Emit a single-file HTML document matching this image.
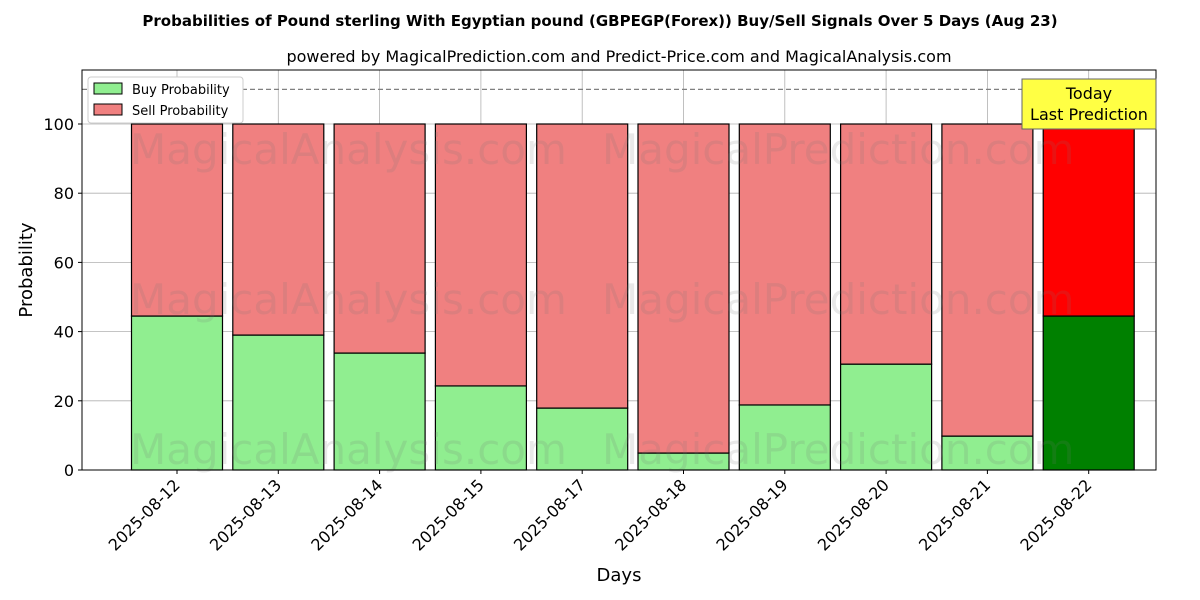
<!DOCTYPE html>
<html><head><meta charset="utf-8"><style>body{margin:0;background:#fff}svg{display:block;font-family:"DejaVu Sans","Liberation Sans",sans-serif}</style></head>
<body>
<svg id="chart" width="1200" height="600" viewBox="0 0 1200 600">
<text x="600" y="26" text-anchor="middle" font-size="15" font-weight="bold">Probabilities of Pound sterling With Egyptian pound (GBPEGP(Forex)) Buy/Sell Signals Over 5 Days (Aug 23)</text>
<text x="619" y="62" text-anchor="middle" font-size="16">powered by MagicalPrediction.com and Predict-Price.com and MagicalAnalysis.com</text>
<g id="grid"></g><g id="bars"></g><g id="wm"></g><g id="axes"></g>
</svg>
<script>
const categories=["2025-08-12","2025-08-13","2025-08-14","2025-08-15","2025-08-17","2025-08-18","2025-08-19","2025-08-20","2025-08-21","2025-08-22"];
const buyValues=[44.5,39,33.8,24.3,17.9,4.9,18.8,30.6,9.8,44.5];
const sellValues=[55.5,61,66.2,75.7,82.1,95.1,81.2,69.4,90.2,55.5];
const yTicks=[0,20,40,60,80,100];
const NS="http://www.w3.org/2000/svg";
const L=82,R=1156,T=70,B=470;
const x=i=>177+i*101.3;
const y=v=>470-v*3.46;
function mk(tag,attrs,parent,text){const e=document.createElementNS(NS,tag);for(const k in attrs)e.setAttribute(k,attrs[k]);if(text!==undefined)e.textContent=text;parent.appendChild(e);return e;}
const grid=document.getElementById('grid'),bars=document.getElementById('bars'),axes=document.getElementById('axes'),wm=document.getElementById('wm');
yTicks.forEach(t=>{
 const g=mk('line',{x1:L,x2:R,y1:y(t),y2:y(t),stroke:'#b0b0b0','stroke-width':0.8},grid);
 
 
 const tk=mk('line',{x1:L-4,x2:L,y1:y(t),y2:y(t),stroke:'#000'},axes);
 
 
 const lb=mk('text',{x:L-8,y:y(t)+6,'text-anchor':'end','font-size':16},axes,String(t));
 
 
});
categories.forEach((c,i)=>{
 const gl=mk('line',{x1:x(i),x2:x(i),y1:T,y2:B,stroke:'#b0b0b0','stroke-width':0.8},grid);
 
 
 const last=i===categories.length-1;
 const w=91,bx=x(i)-w/2;
 const b=mk('rect',{x:bx,y:y(buyValues[i]),width:w,height:y(0)-y(buyValues[i]),fill:last?'#008000':'#90ee90',stroke:'#000','stroke-width':1.2},bars);
 
 
 const s=mk('rect',{x:bx,y:y(buyValues[i]+sellValues[i]),width:w,height:y(buyValues[i])-y(buyValues[i]+sellValues[i]),fill:last?'#ff0000':'#f08080',stroke:'#000','stroke-width':1.2},bars);
 
 
 const tk=mk('line',{x1:x(i),x2:x(i),y1:B,y2:B+4,stroke:'#000'},axes);
 
 
 const lb=mk('text',{x:x(i)+4,y:B+16,'text-anchor':'end','font-size':16,transform:`rotate(-45 ${x(i)+4} ${B+16})`},axes,c);
 
 
});
[[130,150,'MagicalAnalysis.com'],[602,150,'MagicalPrediction.com'],[130,300,'MagicalAnalysis.com'],[602,300,'MagicalPrediction.com'],[130,450,'MagicalAnalysis.com'],[602,450,'MagicalPrediction.com']].forEach(w=>{
 const t=mk('text',{x:w[0],y:w[1]+14,'font-size':42,fill:'rgba(120,120,120,0.16)'},wm,w[2]);
 
 
});
const dl=mk('line',{x1:L,x2:R,y1:y(110),y2:y(110),stroke:'#808080','stroke-dasharray':'5,3','stroke-width':1.2},axes);


const fr=mk('rect',{x:L,y:T,width:R-L,height:B-T,fill:'none',stroke:'#000','stroke-width':1},axes);


const ann=mk('g',{},axes);


mk('rect',{x:1022,y:79,width:134,height:50,fill:'#ffff44',stroke:'#666'},ann);
mk('text',{x:1089,y:99,'text-anchor':'middle','font-size':16},ann,'Today');
mk('text',{x:1089,y:120,'text-anchor':'middle','font-size':16},ann,'Last Prediction');
const lg=mk('g',{},axes);


mk('rect',{x:88,y:77,width:155,height:46,fill:'#fff',stroke:'#ccc',rx:3},lg);
mk('rect',{x:94,y:83,width:28,height:11,fill:'#90ee90',stroke:'#000'},lg);
mk('text',{x:132,y:94,'font-size':13},lg,'Buy Probability');
mk('rect',{x:94,y:104,width:28,height:11,fill:'#f08080',stroke:'#000'},lg);
mk('text',{x:132,y:115,'font-size':13},lg,'Sell Probability');
const xt=mk('text',{x:619,y:581,'text-anchor':'middle','font-size':18},axes,'Days');


const yt=mk('text',{x:32,y:270,'text-anchor':'middle','font-size':18,transform:'rotate(-90 32 270)'},axes,'Probability');


</script>
</body></html>
